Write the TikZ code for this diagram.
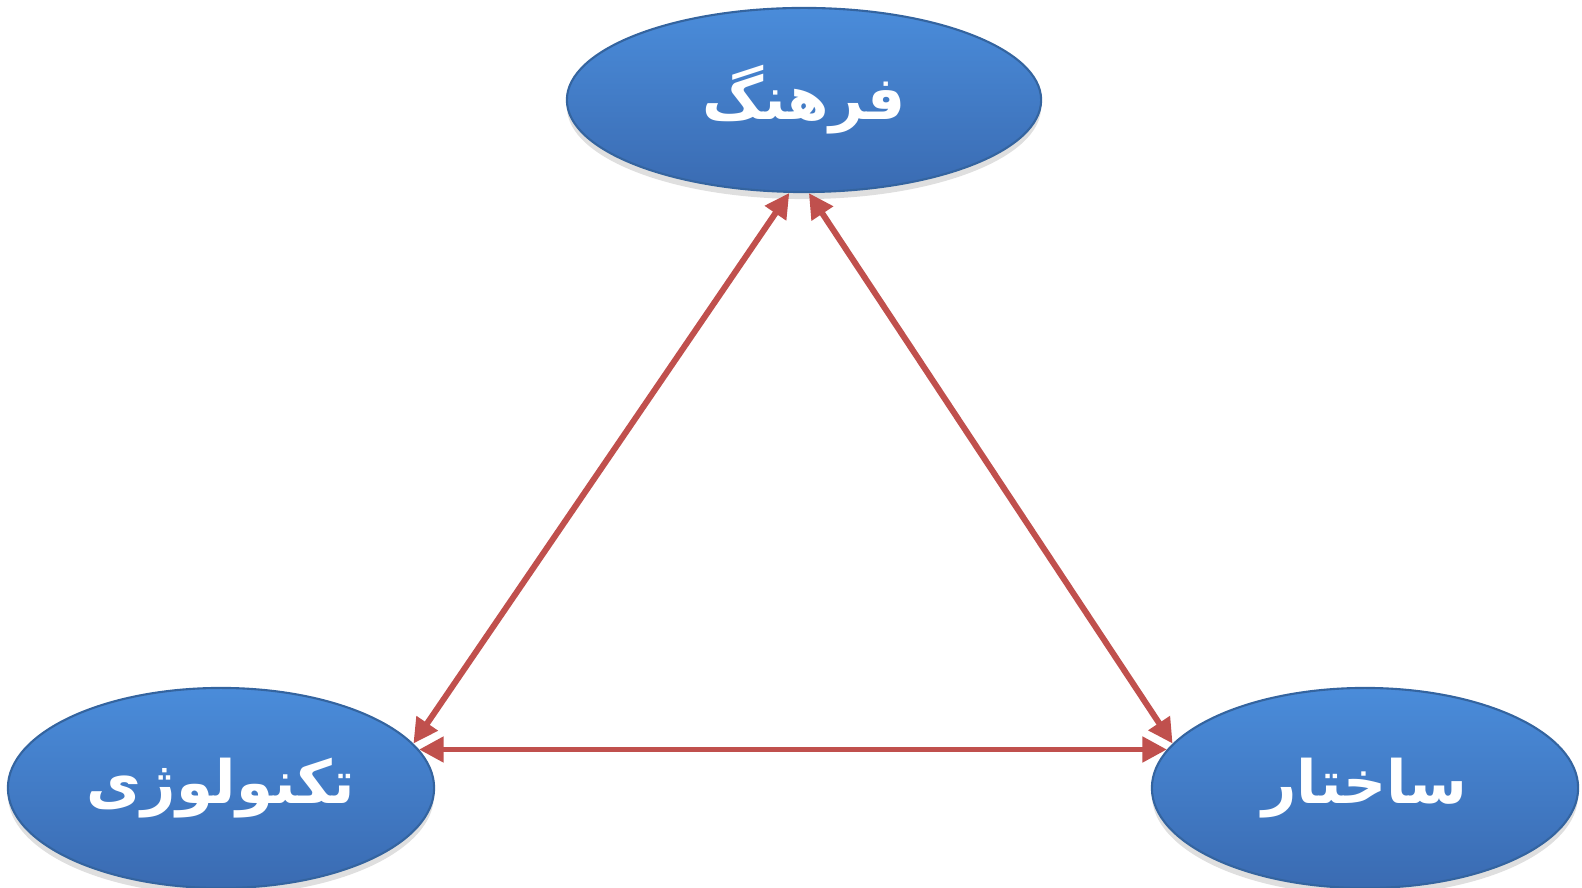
\documentclass[tikz,border=0pt]{standalone}
\usepackage{fontspec}
\usetikzlibrary{shapes.geometric,arrows.meta,shadows}
\TeXXeTstate=1
\newfontfamily\arabicfont[Script=Arabic]{DejaVu Sans}
\definecolor{bluetop}{HTML}{4A8CDA}
\definecolor{bluebot}{HTML}{3A6BB2}
\definecolor{blueedge}{HTML}{34649F}
\definecolor{redarrow}{HTML}{C0504D}

\tikzset{
  concept/.style={ellipse, draw=blueedge, line width=0.6pt, top color=bluetop, bottom color=bluebot,
    inner sep=0pt, text=white, font=\arabicfont\bfseries\fontsize{17}{20}\selectfont,
    drop shadow={opacity=0.25, shadow xshift=0pt, shadow yshift=-2pt}},
  link/.style={{Triangle[length=7pt,width=7pt]}-{Triangle[length=7pt,width=7pt]}, line width=1.7pt, redarrow}
}

\begin{document}
\begin{tikzpicture}[x=0.01cm,y=0.01cm]
  \useasboundingbox (0,0) rectangle (1582,888);
  % the three ellipses
  \node[concept, minimum width=4.74cm, minimum height=1.84cm] (farhang) at (804,788) {\beginR فرهنگ\endR};
  \node[concept, minimum width=4.26cm, minimum height=2.0cm] (tech) at (221,100) {\beginR تکنولوژی\endR};
  \node[concept, minimum width=4.26cm, minimum height=2.0cm] (sakhtar) at (1365,100) {\beginR ساختار\endR};
  % links between them
  \draw[link] (tech.13) -- (farhang.-99);
  \draw[link] (sakhtar.167) -- (farhang.-87);
  \draw[link] (tech.11) -- (sakhtar.169);
\end{tikzpicture}
\end{document}
